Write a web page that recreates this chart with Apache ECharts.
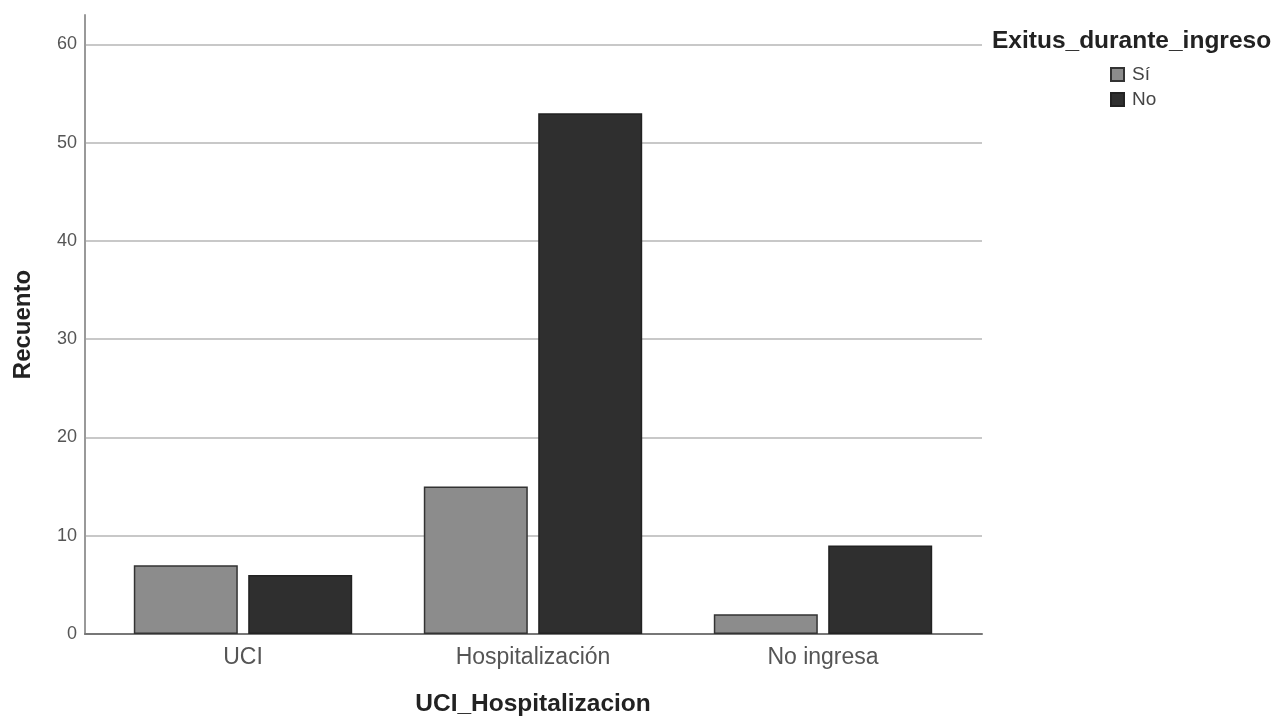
<!DOCTYPE html>
<html>
<head>
<meta charset="utf-8">
<script src="https://cdn.jsdelivr.net/npm/echarts@6/dist/echarts.min.js"></script>
<style>
html,body{margin:0;padding:0;background:#fff;}
#chart{width:1282px;height:722px;}
</style>
</head>
<body>
<div id="chart"></div>
<script>
const categories = ['UCI', 'Hospitalización', 'No ingresa'];
const seriesNames = ['Sí', 'No'];
const valuesSi = [7, 15, 2];
const valuesNo = [6, 53, 9];
const yTicks = [0, 10, 20, 30, 40, 50, 60];

const FONT = '"Liberation Sans", Arial, Helvetica, sans-serif';
const chart = echarts.init(document.getElementById('chart'));

const option = {
  backgroundColor: '#ffffff',
  animation: false,
  textStyle: { fontFamily: FONT },
  title: {
    text: 'Exitus_durante_ingreso',
    left: 992,
    top: 29,
    padding: 0,
    textStyle: { fontFamily: FONT, fontSize: 24.5, fontWeight: 'bold', color: '#222' }
  },
  legend: {
    orient: 'vertical',
    left: 1110,
    top: 65,
    padding: 0,
    itemWidth: 13,
    itemHeight: 13,
    itemGap: 6,
    icon: 'rect',
    data: seriesNames,
    textStyle: { fontFamily: FONT, fontSize: 19, color: '#444', padding: [0, 0, 0, 3], lineHeight: 19 }
  },
  grid: [
    { left: 85, right: 300, top: 15, bottom: 88 },
    { left: 98, width: 870, top: 15, bottom: 88 }
  ],
  xAxis: [
    {
      gridIndex: 0, type: 'value', min: 0, max: 1,
      axisLine: { show: true, onZero: false, lineStyle: { color: '#777', width: 2 } },
      axisTick: { show: false }, axisLabel: { show: false }, splitLine: { show: false }
    },
    {
      gridIndex: 1, type: 'category', data: categories,
      axisLine: { show: false }, axisTick: { show: false },
      axisLabel: { margin: 12, fontFamily: FONT, fontSize: 23, color: '#555' },
      name: 'UCI_Hospitalizacion', nameLocation: 'middle', nameGap: 58,
      nameTextStyle: { fontFamily: FONT, fontSize: 24.5, fontWeight: 'bold', color: '#222' }
    }
  ],
  yAxis: [
    {
      gridIndex: 0, type: 'value', min: 0, max: 63, interval: 10,
      axisLine: { show: true, lineStyle: { color: '#999', width: 2 } },
      axisTick: { show: false },
      axisLabel: {
        margin: 8, fontFamily: FONT, fontSize: 18, color: '#555', showMaxLabel: false,
        formatter: function (v) { return yTicks.indexOf(v) >= 0 ? String(v) : ''; }
      },
      splitLine: { show: true, showMaxLine: false, showMinLine: false, lineStyle: { color: '#c8c8c8', width: 2 } },
      name: 'Recuento', nameLocation: 'middle', nameGap: 50,
      nameTextStyle: { fontFamily: FONT, fontSize: 24, fontWeight: 'bold', color: '#222' }
    },
    {
      gridIndex: 1, type: 'value', min: 0, max: 63, show: false
    }
  ],
  series: [
    {
      name: seriesNames[0], type: 'bar', xAxisIndex: 1, yAxisIndex: 1,
      data: valuesSi, barWidth: 104, barGap: '10%',
      itemStyle: { color: '#8c8c8c', borderColor: '#333', borderWidth: 1.5 }
    },
    {
      name: seriesNames[1], type: 'bar', xAxisIndex: 1, yAxisIndex: 1,
      data: valuesNo, barWidth: 104, barGap: '10%',
      itemStyle: { color: '#2f2f2f', borderColor: '#222', borderWidth: 1.5 }
    }
  ]
};
chart.setOption(option);
</script>
</body>
</html>
